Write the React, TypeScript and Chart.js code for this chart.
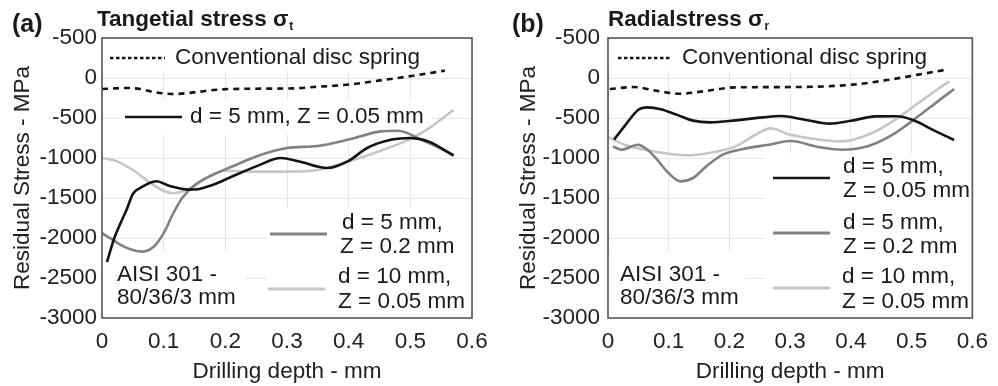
import React, { useEffect, useRef } from 'react';
import { Chart, registerables } from 'chart.js';

Chart.register(...registerables);

const FONT = '"Liberation Sans", Arial, Helvetica, sans-serif';
const FS = 22.5;

// ---- axis ticks ----
const xTickValues = [0, 0.1, 0.2, 0.3, 0.4, 0.5, 0.6];
const xTickLabels = ['0', '0.1', '0.2', '0.3', '0.4', '0.5', '0.6'];
const yTickValues = [-3000, -2500, -2000, -1500, -1000, -500, 0, 500];
const yTickLabels = ['-3000', '-2500', '-2000', '-1500', '-1000', '-500', '0', '-500'];

const xTitle = 'Drilling depth - mm';
const yTitle = 'Residual Stress - MPa';

// ---- series names ----
const convName = 'Conventional disc spring';
const blackNameA = ['d = 5 mm, Z = 0.05 mm'];
const blackNameB = ['d = 5 mm,', 'Z = 0.05 mm'];
const midName = ['d = 5 mm,', 'Z = 0.2 mm'];
const lightName = ['d = 10 mm,', 'Z = 0.05 mm'];
const materialNote = ['AISI 301 -', '80/36/3 mm'];

// ---- panel (a): tangential stress ----
const depthAConv = [0, 0.04, 0.062, 0.084, 0.116, 0.149, 0.186, 0.24, 0.31, 0.343, 0.397, 0.451, 0.505, 0.556];
const stressAConv = [-138, -125, -138, -175, -200, -180, -146, -134, -130, -113, -84, -30, 29, 92];

const depthABlack = [0.008, 0.02, 0.03, 0.04, 0.05, 0.062, 0.088, 0.11, 0.14, 0.155, 0.18, 0.21, 0.25, 0.29, 0.32, 0.365, 0.4, 0.43, 0.47, 0.5, 0.53, 0.57];
const stressABlack = [-2300, -2000, -1815, -1645, -1450, -1375, -1290, -1350, -1395, -1390, -1335, -1235, -1105, -1000, -1045, -1125, -1035, -875, -770, -750, -795, -970];

const depthAMid = [0, 0.015, 0.03, 0.05, 0.065, 0.085, 0.1, 0.115, 0.13, 0.15, 0.18, 0.21, 0.25, 0.3, 0.35, 0.4, 0.45, 0.48, 0.52, 0.57];
const stressAMid = [-1940, -2010, -2085, -2150, -2170, -2100, -1940, -1700, -1500, -1340, -1210, -1110, -980, -875, -850, -770, -670, -660, -780, -960];

const depthALight = [0, 0.02, 0.05, 0.08, 0.1, 0.115, 0.13, 0.15, 0.175, 0.2, 0.25, 0.3, 0.35, 0.4, 0.45, 0.5, 0.53, 0.57];
const stressALight = [-1000, -1030, -1150, -1320, -1410, -1440, -1420, -1350, -1220, -1160, -1170, -1170, -1150, -1040, -915, -760, -630, -400];

// ---- panel (b): radial stress ----
const depthBConv = [0.003, 0.043, 0.076, 0.103, 0.119, 0.157, 0.21, 0.308, 0.403, 0.457, 0.511, 0.554];
const stressBConv = [-138, -113, -155, -188, -196, -167, -117, -113, -83, -29, 42, 100];

const depthBBlack = [0.01, 0.027, 0.05, 0.065, 0.087, 0.113, 0.14, 0.168, 0.21, 0.255, 0.285, 0.32, 0.365, 0.4, 0.44, 0.475, 0.5, 0.54, 0.57];
const stressBBlack = [-770, -605, -396, -367, -390, -458, -533, -555, -530, -492, -475, -515, -570, -535, -480, -478, -520, -667, -775];

const depthBMid = [0.008, 0.022, 0.049, 0.065, 0.081, 0.097, 0.119, 0.14, 0.162, 0.189, 0.222, 0.265, 0.3, 0.349, 0.386, 0.43, 0.473, 0.511, 0.543, 0.57];
const stressBMid = [-855, -896, -834, -896, -1021, -1167, -1292, -1250, -1104, -958, -888, -834, -788, -865, -896, -846, -688, -479, -292, -138];

const depthBLight = [0, 0.027, 0.06, 0.103, 0.135, 0.173, 0.21, 0.243, 0.268, 0.3, 0.349, 0.386, 0.435, 0.473, 0.511, 0.538, 0.562];
const stressBLight = [-735, -834, -896, -950, -967, -929, -855, -709, -630, -709, -771, -792, -688, -521, -313, -167, -42];

const BLACK = '#141414';
const MID = '#818181';
const LIGHT = '#c6c6c6';

const pts = (xs: number[], ys: number[]) => xs.map((x, i) => ({ x, y: ys[i] }));

const lineDs = (label: string, xs: number[], ys: number[], color: string, dash: number[] = []) => ({
  label,
  data: pts(xs, ys),
  borderColor: color,
  borderWidth: 2.6,
  borderDash: dash,
  pointRadius: 0,
  fill: false,
  cubicInterpolationMode: 'monotone' as const,
});

type Panel = {
  tag: string;
  tagX: number;
  title: string;
  titleX: number;
  sub: string;
  yWidth: number;
  padRight: number;
  tickPad: number;
  yTitlePad: number;
  datasets: any[];
  boxes: number[][];
  samples: { x0: number; x1: number; y: number; color: string; dash?: number[]; w: number }[];
  texts: { s: string; x: number; y: number }[];
};

const panelA: Panel = {
  tag: '(a)',
  tagX: 12,
  title: 'Tangetial stress σ',
  titleX: 97,
  sub: 't',
  yWidth: 102,
  padRight: 27,
  tickPad: 5,
  yTitlePad: 9,
  datasets: [
    lineDs(blackNameA.join(' '), depthABlack, stressABlack, BLACK),
    lineDs(midName.join(' '), depthAMid, stressAMid, MID),
    lineDs(lightName.join(' '), depthALight, stressALight, LIGHT),
    lineDs(convName, depthAConv, stressAConv, BLACK, [6, 5]),
  ],
  boxes: [
    [0, 0, 330, 32],
    [18, 62, 330, 96],
    [0, 214, 143, 280],
    [165, 170, 370, 280],
  ],
  samples: [
    { x0: 8, x1: 63, y: 20, color: BLACK, dash: [3.5, 2.5], w: 2.6 },
    { x0: 23, x1: 80, y: 79, color: BLACK, w: 2.6 },
    { x0: 168, x1: 225, y: 196, color: MID, w: 3 },
    { x0: 166, x1: 223, y: 251, color: LIGHT, w: 3 },
  ],
  texts: [
    { s: convName, x: 73, y: 20 },
    { s: blackNameA[0], x: 88, y: 79 },
    { s: midName[0], x: 240, y: 185 },
    { s: midName[1], x: 238, y: 209 },
    { s: lightName[0], x: 236, y: 239 },
    { s: lightName[1], x: 236, y: 264 },
    { s: materialNote[0], x: 15, y: 237 },
    { s: materialNote[1], x: 15, y: 260 },
  ],
};

const panelB: Panel = {
  tag: '(b)',
  tagX: 13,
  title: 'Radialstress σ',
  titleX: 109,
  sub: 'r',
  yWidth: 109,
  padRight: 20,
  tickPad: 8,
  yTitlePad: 16,
  datasets: [
    lineDs(blackNameB.join(' '), depthBBlack, stressBBlack, BLACK),
    lineDs(midName.join(' '), depthBMid, stressBMid, MID),
    lineDs(lightName.join(' '), depthBLight, stressBLight, LIGHT),
    lineDs(convName, depthBConv, stressBConv, BLACK, [6, 5]),
  ],
  boxes: [
    [0, 0, 330, 32],
    [0, 214, 137, 280],
    [157, 116, 364, 280],
  ],
  samples: [
    { x0: 10, x1: 64, y: 20, color: BLACK, dash: [3.5, 2.5], w: 2.6 },
    { x0: 165, x1: 222, y: 140, color: BLACK, w: 2.6 },
    { x0: 165, x1: 222, y: 195, color: MID, w: 3 },
    { x0: 165, x1: 222, y: 250, color: LIGHT, w: 3 },
  ],
  texts: [
    { s: convName, x: 74, y: 20 },
    { s: blackNameB[0], x: 235, y: 129 },
    { s: blackNameB[1], x: 235, y: 153 },
    { s: midName[0], x: 235, y: 185 },
    { s: midName[1], x: 235, y: 209 },
    { s: lightName[0], x: 234, y: 239 },
    { s: lightName[1], x: 234, y: 264 },
    { s: materialNote[0], x: 12, y: 237 },
    { s: materialNote[1], x: 12, y: 260 },
  ],
};

function decorPlugin(p: Panel) {
  return {
    id: 'panelDecor',
    beforeDatasetsDraw(chart: any) {
      const { ctx, chartArea: a } = chart;
      ctx.save();
      ctx.fillStyle = '#ffffff';
      for (const [x0, y0, x1, y1] of p.boxes) ctx.fillRect(a.left + x0, a.top + y0, x1 - x0, y1 - y0);
      ctx.restore();
    },
    afterDraw(chart: any) {
      const { ctx, chartArea: a } = chart;
      ctx.save();
      ctx.strokeStyle = '#555555';
      ctx.lineWidth = 1.6;
      ctx.setLineDash([]);
      ctx.strokeRect(a.left, a.top, a.right - a.left, a.bottom - a.top);
      for (const s of p.samples) {
        ctx.beginPath();
        ctx.setLineDash(s.dash || []);
        ctx.strokeStyle = s.color;
        ctx.lineWidth = s.w;
        ctx.moveTo(a.left + s.x0, a.top + s.y);
        ctx.lineTo(a.left + s.x1, a.top + s.y);
        ctx.stroke();
      }
      ctx.setLineDash([]);
      ctx.fillStyle = '#1a1a1a';
      ctx.font = `${FS}px ${FONT}`;
      ctx.textBaseline = 'middle';
      ctx.textAlign = 'left';
      for (const t of p.texts) ctx.fillText(t.s, a.left + t.x, a.top + t.y);
      ctx.textBaseline = 'alphabetic';
      ctx.font = `bold 25px ${FONT}`;
      ctx.fillText(p.tag, p.tagX, 32);
      ctx.font = `bold 22.5px ${FONT}`;
      ctx.fillText(p.title, p.titleX, 26);
      const w = ctx.measureText(p.title).width;
      ctx.font = `bold 12px ${FONT}`;
      ctx.fillText(p.sub, p.titleX + w + 1, 30);
      ctx.restore();
    },
  };
}

function PanelChart({ p, left }: { p: Panel; left: number }) {
  const ref = useRef<HTMLCanvasElement>(null);
  useEffect(() => {
    if (!ref.current) return;
    const font = { family: FONT, size: FS };
    const chart = new Chart(ref.current, {
      type: 'line',
      data: { datasets: p.datasets },
      options: {
        animation: false,
        responsive: false,
        layout: { autoPadding: false, padding: { left: 0, top: 38, right: p.padRight, bottom: 0 } },
        plugins: { legend: { display: false }, tooltip: { enabled: false }, title: { display: false } },
        scales: {
          x: {
            type: 'linear',
            min: 0,
            max: 0.6,
            afterBuildTicks: (s: any) => {
              s.ticks = xTickValues.map((v) => ({ value: v }));
            },
            ticks: {
              callback: (_v: any, i: number) => xTickLabels[i],
              font,
              color: '#222222',
              padding: 10,
              maxRotation: 0,
              autoSkip: false,
            },
            grid: { color: '#e6e6e6', drawTicks: false, lineWidth: 1 },
            border: { display: false },
            title: { display: true, text: xTitle, font, color: '#222222', padding: { top: 0, bottom: 1 } },
            afterFit: (s: any) => {
              s.height = 68;
            },
          },
          y: {
            type: 'linear',
            min: -3000,
            max: 500,
            afterBuildTicks: (s: any) => {
              s.ticks = yTickValues.map((v) => ({ value: v }));
            },
            ticks: {
              callback: (_v: any, i: number) => yTickLabels[i],
              font,
              color: '#222222',
              padding: p.tickPad,
              autoSkip: false,
            },
            grid: { color: '#e6e6e6', drawTicks: false, lineWidth: 1 },
            border: { display: false },
            title: { display: true, text: yTitle, font, color: '#222222', padding: { top: p.yTitlePad, bottom: 0 } },
            afterFit: (s: any) => {
              s.width = p.yWidth;
            },
          },
        },
      },
      plugins: [decorPlugin(p)],
    } as any);
    return () => chart.destroy();
  }, [p]);
  return (
    <canvas
      ref={ref}
      width={499}
      height={386}
      style={{ position: 'absolute', left, top: 0, width: 499, height: 386 }}
    />
  );
}

export default function App() {
  return (
    <div style={{ position: 'fixed', left: 0, top: 0, width: 998, height: 386, background: '#ffffff' }}>
      <PanelChart p={panelA} left={0} />
      <PanelChart p={panelB} left={499} />
    </div>
  );
}
